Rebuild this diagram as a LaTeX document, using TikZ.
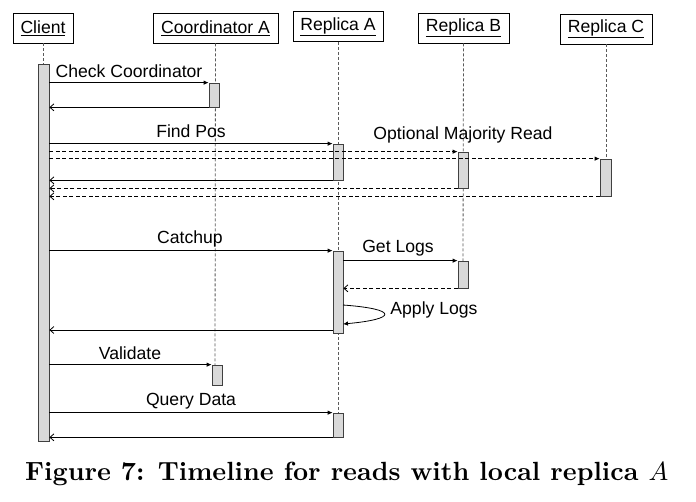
\documentclass[tikz,border=0pt]{standalone}
\usepackage{fontspec}
\newfontfamily\arialf{Liberation Sans}
\usetikzlibrary{arrows.meta}
\definecolor{barfill}{HTML}{D9D9D9}
\definecolor{lifegray}{HTML}{5A5A5A}
\begin{document}
\begin{tikzpicture}[x=1pt,y=-1pt,
  every node/.style={font=\arialf\fontsize{17.6}{20}\selectfont},
  head/.style={draw=black, fill=white, line width=0.7pt, inner sep=0pt, minimum height=30pt},
  actbar/.style={draw=black!75, fill=barfill, line width=0.7pt, inner sep=0pt, minimum width=10pt},
  life/.style={draw=lifegray, line width=0.8pt, dash pattern=on 3pt off 2pt},
  call/.style={draw=black, line width=0.8pt, -{Latex[length=5pt,width=4.5pt]}},
  acall/.style={call, dash pattern=on 4pt off 2.5pt},
  ret/.style={draw=black, line width=0.8pt, -{Straight Barb[length=4pt,width=7pt]}},
  aret/.style={ret, dash pattern=on 4pt off 2.5pt},
  lbl/.style={inner sep=0pt}
]
\useasboundingbox (0,0) rectangle (696,501);
\fill[white] (0,0) rectangle (696,501);

% headers
\node[head, minimum width=60pt] (hcl) at (43,28) {\underline{Client}};
\node[head, minimum width=125pt] (hco) at (215.5,28) {\underline{Coordinator A}};
\node[head, minimum width=90pt] (hra) at (338,26.5) {\underline{Replica A}};
\node[head, minimum width=91pt] (hrb) at (463.5,28) {\underline{Replica B}};
\node[head, minimum width=92pt] (hrc) at (606,29) {\underline{Replica C}};

% activation bars (positions)
\coordinate (pcl) at (43.5,252.5);
\coordinate (pco1) at (214,95);
\coordinate (pco2) at (217,375);
\coordinate (pra1) at (338,162);
\coordinate (pra2) at (338,292);
\coordinate (pra3) at (338,425);
\coordinate (prb1) at (463,170);
\coordinate (prb2) at (463,274.5);
\coordinate (prc1) at (605.5,177.5);

% lifelines
\draw[life] (hcl.south) -- (43,64);
\draw[life] (hco.south) -- (215,365);
\draw[life] (hra.south) -- (338,413);
\draw[life] (hrb.south) -- (463,261);
\draw[life] (hrc.south) -- (606,159);

% bars
\node[actbar, minimum width=11pt, minimum height=377pt] (cl) at (pcl) {};
\node[actbar, minimum height=24pt] (co1) at (pco1) {};
\node[actbar, minimum height=20pt] (co2) at (pco2) {};
\node[actbar, minimum height=36pt] (ra1) at (pra1) {};
\node[actbar, minimum height=82pt] (ra2) at (pra2) {};
\node[actbar, minimum height=24pt] (ra3) at (pra3) {};
\node[actbar, minimum height=36pt] (rb1) at (prb1) {};
\node[actbar, minimum height=27pt] (rb2) at (prb2) {};
\node[actbar, minimum width=11pt, minimum height=37pt] (rc1) at (prc1) {};

% messages
\draw[call] (cl.east |- co1.north west) -- (co1.north west);
\draw[ret] (co1.south west) -- (cl.east |- co1.south west);
\node[lbl] (l1) at (129,71) {Check Coordinator};

\draw[call] (cl.east |- ra1.north west) -- (ra1.north west);
\node[lbl] (l2) at (191,131) {Find Pos};
\draw[acall] (cl.east |- rb1.north west) -- (rb1.north west);
\draw[acall] (cl.east |- rc1.north west) -- (rc1.north west);
\node[lbl] (l3) at (463,135) {Optional Majority Read};
\draw[ret] (ra1.south west) -- (cl.east |- ra1.south west);
\draw[aret] (rb1.south west) -- (cl.east |- rb1.south west);
\draw[aret] (rc1.south west) -- (cl.east |- rc1.south west);

\draw[call] (cl.east |- ra2.north west) -- (ra2.north west);
\node[lbl] (l4) at (190,239) {Catchup};
\draw[call] (ra2.east |- rb2.north west) -- (rb2.north west);
\node[lbl] (l5) at (398,248) {Get Logs};
\draw[aret] (rb2.south west) -- (ra2.east |- rb2.south west);
\coordinate (al1) at (343,305);
\coordinate (al2) at (343,324);
\draw[call] (al1) .. controls (398,309) and (398,319) .. (al2);
\node[lbl] (l6) at (434,310) {Apply Logs};
\coordinate (r2) at (333,330);
\draw[ret] (r2) -- (cl.east |- r2);

\draw[call] (cl.east |- co2.north west) -- (co2.north west);
\node[lbl] (l7) at (130,353) {Validate};

\draw[call] (cl.east |- ra3.north west) -- (ra3.north west);
\node[lbl] (l8) at (191,401) {Query Data};
\draw[ret] (ra3.south west) -- (cl.east |- ra3.south west);

% caption
\node[inner sep=0pt, anchor=base west, font=\normalfont] (cap) at (25,480)
  {\resizebox{643pt}{!}{\bfseries Figure 7: Timeline for reads with local replica $A$}};
\end{tikzpicture}
\end{document}
